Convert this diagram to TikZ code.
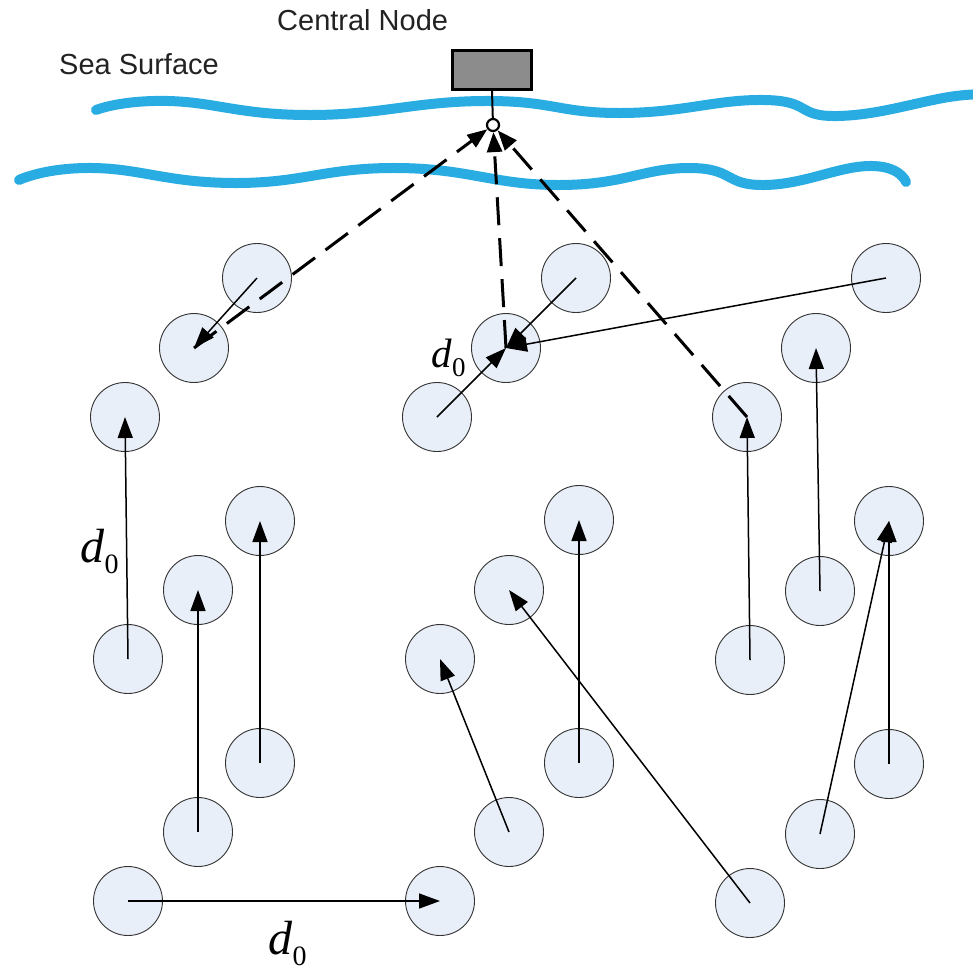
\documentclass[tikz,border=0pt]{standalone}
\usepackage{fontspec}
\setmainfont{Liberation Sans}
\newfontfamily\dfont{Liberation Serif}
\usetikzlibrary{arrows.meta}
\definecolor{sea}{RGB}{41,172,226}
\definecolor{nodefill}{RGB}{232,239,248}
\definecolor{buoy}{RGB}{140,140,140}
\definecolor{inktext}{RGB}{34,34,34}
% distance label d_0
\newcommand{\dzero}[2]{{\dfont\fontsize{#1}{#1}\selectfont\itshape d\kern0.5pt\raisebox{-0.24em}{\fontsize{#2}{#2}\selectfont\upshape 0}}}
\begin{document}
\begin{tikzpicture}[x=1pt,y=-1pt,
  sensor/.style={circle,draw=black!80,line width=0.9pt,fill=nodefill,minimum size=69pt,inner sep=0pt},
  move/.style={line width=1.5pt,-{Triangle[length=21pt,width=15pt]}},
  link/.style={line width=3pt,dash pattern=on 28pt off 13pt,-{Triangle[length=20pt,width=15pt]}},
  wave/.style={sea,line width=10pt,line cap=round},
  dlabel/.style={anchor=base west,inner sep=0pt},
  caption/.style={anchor=base west,inner sep=0pt,text=inktext,font=\fontsize{29}{29}\selectfont}]
\useasboundingbox (0,0) rectangle (973,967);

% sea surface
\draw[wave] plot[smooth,tension=0.8] coordinates {(96,110) (168,101) (310,115) (484,101) (621,113) (764,100) (838,116) (956,96) (990,97)};
\draw[wave] plot[smooth,tension=0.8] coordinates {(19,180) (93,168) (236,183) (397,168) (559,185) (689,168) (764,185) (869,166) (906,182)};

\node[caption] (seatext) at (59,74) {Sea Surface};
\node[caption] (centraltext) at (277,30) {Central Node};

% central node with its hydrophone
\node[draw,line width=3pt,fill=buoy,minimum width=79pt,minimum height=39pt,inner sep=0pt] (buoy) at (492,70) {};
\node[circle,draw,line width=2.2pt,fill=white,minimum size=12pt,inner sep=0pt] (hub) at (493,125) {};
\draw[line width=2pt] (buoy.south) -- (hub);

% sensor nodes
\foreach \n/\x/\y in {
  1/257/278, 2/194/348, 3/125/417, 4/260/521, 5/198/590, 6/128/659, 7/260/763, 8/198/832, 9/128/901,
  10/576/278, 11/506/348, 12/437/417, 13/579/520, 14/509/590, 15/440/659, 16/579/763, 17/509/832, 18/440/901,
  19/886/278, 20/816/348, 21/747/417, 22/889/521, 23/820/591, 24/750/660, 25/889/764, 26/820/834, 27/750/903}
  \node[sensor] (n\n) at (\x,\y) {};

% node movements
\foreach \a/\b in {1/2, 6/3, 8/5, 7/4, 9/18, 10/11, 12/11, 19/11, 17/15, 27/14, 16/13, 24/21, 23/20, 26/22, 25/22}
  \draw[move] (n\a.center) -- (n\b.center);

% acoustic links to the central node
\draw[link] (n2.center) -- (hub);
\draw[link] (n11.center) -- (hub);
\draw[link] (n21.center) -- (hub);

% distance labels
\node[dlabel] (dleft) at (80,562) {\dzero{48}{28}};
\node[dlabel] (dmid) at (431,367) {\dzero{41}{27}};
\node[dlabel] (dbottom) at (268,954) {\dzero{48}{28}};
\end{tikzpicture}
\end{document}
